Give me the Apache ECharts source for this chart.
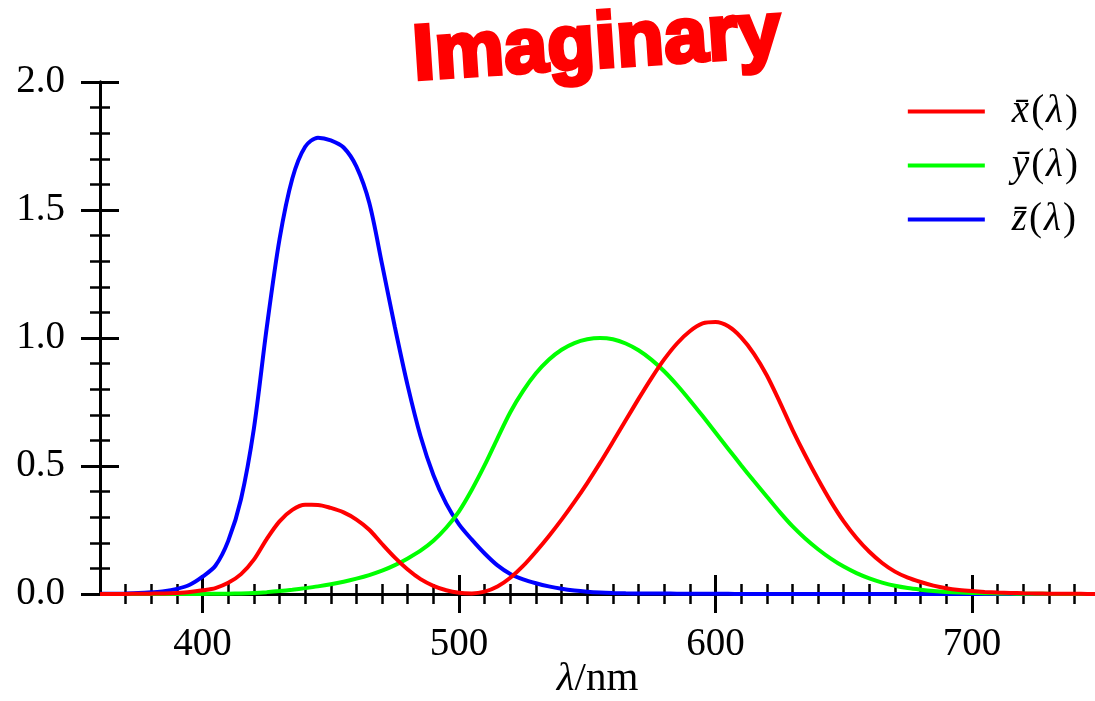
<!DOCTYPE html>
<html>
<head>
<meta charset="utf-8">
<script src="https://cdn.jsdelivr.net/npm/echarts@6/dist/echarts.min.js"></script>
<style>
  html, body { margin: 0; padding: 0; background: #fff; }
  #chart { width: 1095px; height: 701px; }
</style>
</head>
<body>
<div id="chart"></div>
<script>
// CIE 1931 colour matching functions, 5 nm steps
const wavelengths = [360, 365, 370, 375, 380, 385, 390, 395, 400, 405, 410, 415, 420, 425, 430, 435, 440, 445, 450, 455,
  460, 465, 470, 475, 480, 485, 490, 495, 500, 505, 510, 515, 520, 525, 530, 535, 540, 545, 550, 555,
  560, 565, 570, 575, 580, 585, 590, 595, 600, 605, 610, 615, 620, 625, 630, 635, 640, 645, 650, 655,
  660, 665, 670, 675, 680, 685, 690, 695, 700, 705, 710, 715, 720, 725, 730, 735, 740, 745, 750];

const xBar = [0.00013, 0.00023, 0.00042, 0.00074, 0.00137, 0.00224, 0.00424, 0.00765, 0.01431, 0.02319, 0.04351, 0.07763, 0.13438, 0.21477, 0.2839, 0.3285, 0.34828, 0.34806, 0.3362, 0.3187,
  0.2908, 0.2511, 0.19536, 0.1421, 0.09564, 0.05795, 0.03201, 0.0147, 0.0049, 0.0024, 0.0093, 0.0291, 0.06327, 0.1096, 0.1655, 0.22575, 0.2904, 0.3597, 0.43345, 0.51205,
  0.5945, 0.6784, 0.7621, 0.8425, 0.9163, 0.9786, 1.0263, 1.0567, 1.0622, 1.0456, 1.0026, 0.9384, 0.85445, 0.7514, 0.6424, 0.5419, 0.4479, 0.3608, 0.2835, 0.2187,
  0.1649, 0.1212, 0.0874, 0.0636, 0.04677, 0.0329, 0.0227, 0.01584, 0.01136, 0.00811, 0.00579, 0.00411, 0.0029, 0.00205, 0.00144, 0.001, 0.00069, 0.00048, 0.00033];

const yBar = [0.000004, 0.000007, 0.000012, 0.000022, 0.000039, 0.000064, 0.00012, 0.000217, 0.000396, 0.00064, 0.00121, 0.00218, 0.004, 0.0073, 0.0116, 0.01684, 0.023, 0.0298, 0.038, 0.048,
  0.06, 0.0739, 0.09098, 0.1126, 0.13902, 0.1693, 0.20802, 0.2586, 0.323, 0.4073, 0.503, 0.6082, 0.71, 0.7932, 0.862, 0.91485, 0.954, 0.9803, 0.99495, 1.0,
  0.995, 0.9786, 0.952, 0.9154, 0.87, 0.8163, 0.757, 0.6949, 0.631, 0.5668, 0.503, 0.4412, 0.381, 0.321, 0.265, 0.217, 0.175, 0.1382, 0.107, 0.0816,
  0.061, 0.04458, 0.032, 0.0232, 0.017, 0.01192, 0.00821, 0.00572, 0.0041, 0.00293, 0.00209, 0.00148, 0.00105, 0.00074, 0.00052, 0.00036, 0.00025, 0.00017, 0.00012];

const zBar = [0.000606, 0.001086, 0.001946, 0.003486, 0.00645, 0.01055, 0.02005, 0.03621, 0.06785, 0.1102, 0.2074, 0.3713, 0.6456, 1.03905, 1.3856, 1.62296, 1.74706, 1.7826, 1.77211, 1.7441,
  1.6692, 1.5281, 1.28764, 1.0419, 0.81295, 0.6162, 0.46518, 0.3533, 0.272, 0.2123, 0.1582, 0.1117, 0.07825, 0.05725, 0.04216, 0.02984, 0.0203, 0.0134, 0.00875, 0.00575,
  0.0039, 0.00275, 0.0021, 0.0018, 0.00165, 0.0014, 0.0011, 0.001, 0.0008, 0.0006, 0.00034, 0.00024, 0.00019, 0.0001, 0.00005, 0.00003, 0.00002, 0.00001, 0, 0,
  0, 0, 0, 0, 0, 0, 0, 0, 0, 0, 0, 0, 0, 0, 0, 0, 0, 0, 0];

const majorTicks = [400, 500, 600, 700];
const minorTicks = [370, 380, 390, 410, 420, 430, 440, 450, 460, 470, 480, 490, 510, 520, 530, 540, 550, 560, 570, 580,
  590, 610, 620, 630, 640, 650, 660, 670, 680, 690, 710, 720, 730, 740];

const seriesNames = ['x', 'y', 'z'];
const legendLabels = {
  x: '{i|x\u0304}{n|(}{i|\u03bb}{n|)}',
  y: '{i|y\u0304}{n|(}{i|\u03bb}{n|)}',
  z: '{i|z\u0304}{n|(}{i|\u03bb}{n|)}'
};

const serif = "'Liberation Serif', 'DejaVu Serif', serif";
const black = '#000';

// four identical grids so ticks can sit on both sides of the axes
const gridBox = { left: 100, right: 0, top: 82, bottom: 107, containLabel: false, outerBoundsMode: 'none' };

function xAxisFor(idx, ticks, inside, len, width, withLabels) {
  return {
    type: 'value',
    gridIndex: idx,
    min: 360,
    max: 748,
    position: 'bottom',
    offset: 0,
    axisLine: { show: true, onZero: false, lineStyle: { color: black, width: 3 } },
    axisTick: { show: true, inside: inside, length: len, customValues: ticks, lineStyle: { color: black, width: width } },
    axisLabel: withLabels
      ? { show: true, customValues: ticks, margin: 31, color: black, fontFamily: serif, fontSize: 39 }
      : { show: false, customValues: ticks },
    splitLine: { show: false },
    name: withLabels ? '{i|\u03bb}{n|/nm}' : '',
    nameLocation: 'middle',
    nameGap: 65,
    nameMoveOverlap: false,
    nameTextStyle: {
      rich: {
        i: { fontFamily: serif, fontStyle: 'italic', fontSize: 41, color: black },
        n: { fontFamily: serif, fontSize: 41, color: black }
      }
    }
  };
}

function yAxisFor(idx, inside, withLabels, visible) {
  return {
    type: 'value',
    gridIndex: idx,
    show: visible,
    min: 0,
    max: 2,
    interval: 0.5,
    position: 'left',
    offset: 0,
    axisLine: { show: true, onZero: false, lineStyle: { color: black, width: 3 } },
    axisTick: { show: true, inside: inside, length: 19, lineStyle: { color: black, width: 3 } },
    minorTick: { show: true, splitNumber: 5, length: 10, lineStyle: { color: black, width: 2.5 } },
    axisLabel: withLabels
      ? { show: true, margin: 35, color: black, fontFamily: serif, fontSize: 39, formatter: v => v.toFixed(1) }
      : { show: false },
    splitLine: { show: false },
    minorSplitLine: { show: false }
  };
}

const chart = echarts.init(document.getElementById('chart'));

const colors = { x: '#ff0000', y: '#00ff00', z: '#0000ff' };
const values = { x: xBar, y: yBar, z: zBar };

// draw blue first, red last so red sits on top
const drawOrder = ['z', 'y', 'x'];

chart.setOption({
  animation: false,
  backgroundColor: '#fff',
  grid: [gridBox, gridBox, gridBox, gridBox],
  xAxis: [
    xAxisFor(0, majorTicks, false, 19, 3, true),
    xAxisFor(1, majorTicks, true, 19, 3, false),
    xAxisFor(2, minorTicks, false, 10, 2.5, false),
    xAxisFor(3, minorTicks, true, 10, 2.5, false)
  ],
  yAxis: [
    yAxisFor(0, false, true, true),
    yAxisFor(1, true, false, true),
    yAxisFor(2, false, false, false),
    yAxisFor(3, false, false, false)
  ],
  legend: {
    data: seriesNames,
    orient: 'vertical',
    right: 12,
    top: 87,
    icon: 'rect',
    itemWidth: 77,
    itemHeight: 4,
    itemGap: 15,
    formatter: name => legendLabels[name],
    textStyle: {
      padding: [0, 0, 0, 20],
      rich: {
        i: { fontFamily: serif, fontStyle: 'italic', fontSize: 39, color: black, lineHeight: 40, padding: [0, 2, 0, 2] },
        n: { fontFamily: serif, fontSize: 39, color: black, lineHeight: 40 }
      }
    }
  },
  graphic: [{
    type: 'text',
    x: 597,
    y: 46,
    rotation: 0.065,
    style: {
      text: 'Imaginary',
      align: 'center',
      verticalAlign: 'middle',
      fill: '#ff0000',
      stroke: '#ff0000',
      lineWidth: 4,
      lineJoin: 'round',
      font: "bold 78px 'Liberation Sans', Arial, sans-serif"
    }
  }],
  series: drawOrder.map(k => ({
    name: k,
    type: 'line',
    xAxisIndex: 0,
    yAxisIndex: 0,
    showSymbol: false,
    smooth: 0.3,
    data: wavelengths.map((w, i) => [w, values[k][i]]),
    color: colors[k],
    lineStyle: { color: colors[k], width: 4 }
  }))
});
</script>
</body>
</html>
